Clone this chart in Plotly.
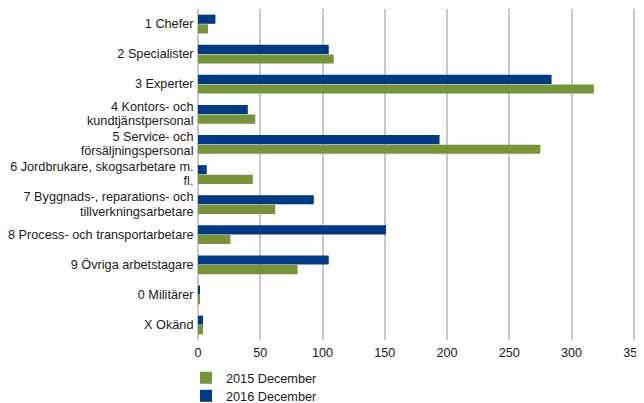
import plotly.graph_objects as go

categories = [
    "1 Chefer",
    "2 Specialister",
    "3 Experter",
    "4 Kontors- och\nkundtjänstpersonal",
    "5 Service- och\nförsäljningspersonal",
    "6 Jordbrukare, skogsarbetare m.\nfl.",
    "7 Byggnads-, reparations- och\ntillverkningsarbetare",
    "8 Process- och transportarbetare",
    "9 Övriga arbetstagare",
    "0 Militärer",
    "X Okänd",
]
values_2015 = [8, 109, 318, 46, 275, 44, 62, 26, 80, 1, 4]
values_2016 = [14, 105, 284, 40, 194, 7, 93, 151, 105, 1, 4]
tick_values = [0, 50, 100, 150, 200, 250, 300, 350]

# tick labels: each line rendered at 12.7px while line spacing follows the 11px base font
tick_text = [
    "<br>".join("<span style='font-size:12.7px'>%s </span>" % line for line in c.split("\n"))
    for c in categories
]

fig = go.Figure()
fig.add_trace(go.Bar(
    y=categories, x=values_2015, orientation="h", name="2015 December",
    marker=dict(color="#77933c", line=dict(width=0)), legend="legend",
))
fig.add_trace(go.Bar(
    y=categories, x=values_2016, orientation="h", name="2016 December",
    marker=dict(color="#003a82", line=dict(width=0)), legend="legend2",
))

legend_common = dict(xanchor="left", yanchor="top", orientation="v",
                     font=dict(size=12.7), itemwidth=30, bgcolor="rgba(0,0,0,0)")

fig.update_layout(
    width=636, height=395,
    margin=dict(l=190, r=9, t=1, b=63, autoexpand=False),
    paper_bgcolor="white", plot_bgcolor="white",
    barmode="group", bargap=0.36, bargroupgap=0.05,
    font=dict(family="Liberation Sans, Arial, sans-serif", size=12.7, color="#1a1a1a"),
    xaxis=dict(
        range=[0, 351], tickvals=tick_values, showgrid=True, automargin=False,
        gridcolor="#c8c8c8", gridwidth=2, zeroline=True, zerolinecolor="#c8c8c8",
        zerolinewidth=2, showline=False, ticks="", tickfont=dict(size=12.7),
        ticklabelstandoff=3, ticklabeloverflow="allow",
    ),
    yaxis=dict(
        categoryorder="array", categoryarray=categories[::-1], automargin=False,
        tickmode="array", tickvals=categories, ticktext=tick_text,
        showgrid=False, zeroline=False, showline=False, ticks="",
        tickfont=dict(size=11),
    ),
    legend=dict(x=-0.0275, y=-0.0695, **legend_common),
    legend2=dict(x=-0.0275, y=-0.124, **legend_common),
    showlegend=True,
)

fig.write_html("out.html")
